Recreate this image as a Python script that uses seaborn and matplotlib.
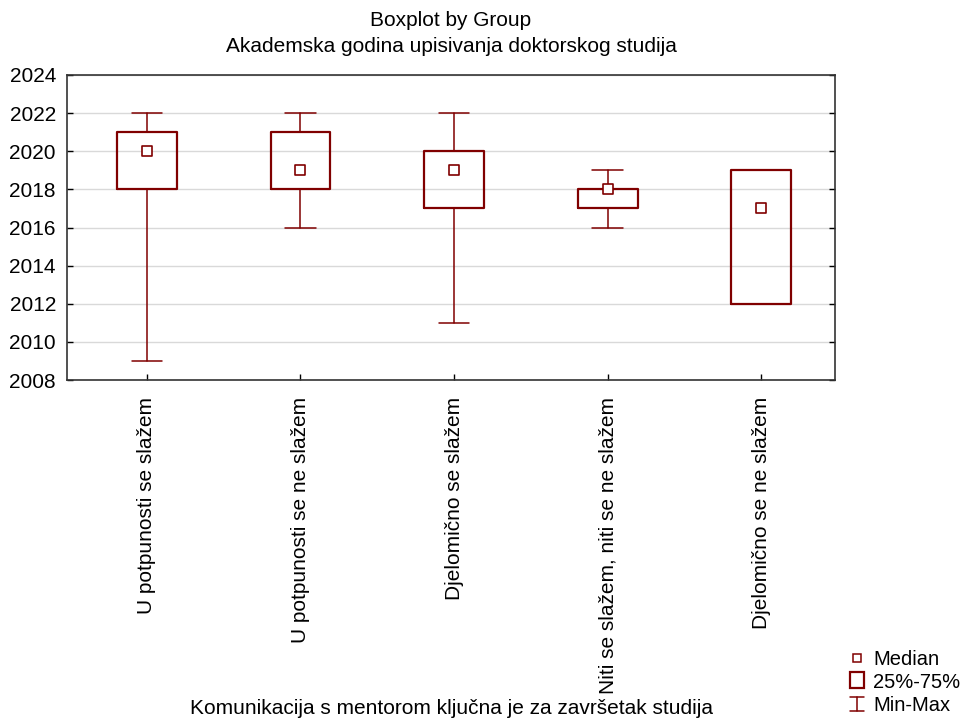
import matplotlib
matplotlib.use("Agg")
import matplotlib.pyplot as plt
import seaborn as sns
import pandas as pd
from matplotlib.lines import Line2D
from matplotlib.patches import Rectangle
from matplotlib.legend_handler import HandlerBase

categories = ["U potpunosti se slažem", "U potpunosti se ne slažem", "Djelomično se slažem",
              "Niti se slažem, niti se ne slažem", "Djelomično se ne slažem"]
minimum = [2009, 2016, 2011, 2016, 2012]
q1 = [2018, 2018, 2017, 2017, 2012]
median = [2020, 2019, 2019, 2018, 2017]
q3 = [2021, 2021, 2020, 2018, 2019]
maximum = [2022, 2022, 2022, 2019, 2019]
yticks = [2008, 2010, 2012, 2014, 2016, 2018, 2020, 2022, 2024]

sns.set_style("white")
plt.rcParams['font.family'] = ['Liberation Sans', 'DejaVu Sans']
plt.rcParams['text.color'] = 'black'
plt.rcParams['xtick.color'] = 'black'
plt.rcParams['ytick.color'] = 'black'

color = "#800000"
FS = 15
fig = plt.figure(figsize=(9.67, 7.18), dpi=100)
ax = fig.add_axes([67/967, 1-380/718, 768/967, 305/718])

stats = []
for c, mn, a, m, b, mx in zip(categories, minimum, q1, median, q3, maximum):
    stats.append(dict(label=c, whislo=mn, q1=a, med=m, q3=b, whishi=mx, fliers=[]))

ax.bxp(stats, positions=range(len(categories)), widths=0.39, showfliers=False,
       patch_artist=False,
       boxprops=dict(color=color, linewidth=1.6),
       whiskerprops=dict(color=color, linewidth=1.1),
       capprops=dict(color=color, linewidth=1.1),
       medianprops=dict(linewidth=0),
       capwidths=0.2, zorder=3)

df = pd.DataFrame({"cat": categories, "median": median, "pos": range(len(categories))})
sns.scatterplot(data=df, x="pos", y="median", marker="s", s=45, facecolor="white",
                edgecolor=color, linewidth=1.2, ax=ax, zorder=4, legend=False)

ax.set_xlim(-0.52, 4.48)
ax.set_ylim(2008, 2024)
ax.set_yticks(yticks)
ax.set_xticks(range(len(categories)))
ax.set_xticklabels(categories, rotation=90, fontsize=FS)
ax.tick_params(axis='y', labelsize=FS, direction='in', length=4, right=True, left=True, width=1, pad=8)
ax.tick_params(axis='x', direction='in', length=4, top=False, bottom=True, width=1, pad=12)
ax.yaxis.grid(True, color="#d9d9d9", linewidth=1)
ax.set_axisbelow(True)
for s in ax.spines.values():
    s.set_color("#333333")
    s.set_linewidth(1.2)
ax.set_xlabel("")
ax.set_ylabel("")

cx = 0.5 * (67 + 835) / 967
fig.text(cx, 1 - 20/718, "Boxplot by Group", ha="center", va="center", fontsize=FS)
fig.text(cx, 1 - 47/718, "Akademska godina upisivanja doktorskog studija",
         ha="center", va="center", fontsize=FS)
fig.text(cx, 1 - 708/718, "Komunikacija s mentorom ključna je za završetak studija",
         ha="center", va="center", fontsize=FS)

# legend
class CapHandler(HandlerBase):
    def create_artists(self, legend, orig, xd, yd, w, h, fs, trans):
        cx = w / 2 - xd
        l1 = Line2D([cx, cx], [-yd, h - yd], color=color, lw=1.1, transform=trans)
        l2 = Line2D([cx - 5, cx + 5], [-yd, -yd], color=color, lw=1.1, transform=trans)
        l3 = Line2D([cx - 5, cx + 5], [h - yd, h - yd], color=color, lw=1.1, transform=trans)
        return [l1, l2, l3]

class BoxHandler(HandlerBase):
    def create_artists(self, legend, orig, xd, yd, w, h, fs, trans):
        r = Rectangle((w / 2 - xd - 5, -yd), 10, h + 1, facecolor="white",
                      edgecolor=color, lw=1.6, transform=trans)
        return [r]

med_h = Line2D([], [], marker="s", linestyle="none", markersize=6,
               markerfacecolor="white", markeredgecolor=color, markeredgewidth=1.1)
box_h = Rectangle((0, 0), 1, 1)
cap_h = Line2D([], [])
fig.legend([med_h, box_h, cap_h], ["Median", "25%-75%", "Min-Max"],
           handler_map={box_h: BoxHandler(), cap_h: CapHandler()},
           loc="lower left", bbox_to_anchor=(845/967, 1/718), frameon=False,
           fontsize=14.5, handlelength=1.0, handletextpad=0.3, labelspacing=0.2,
           borderpad=0.1, borderaxespad=0)

fig.savefig("out.png", dpi=100)
